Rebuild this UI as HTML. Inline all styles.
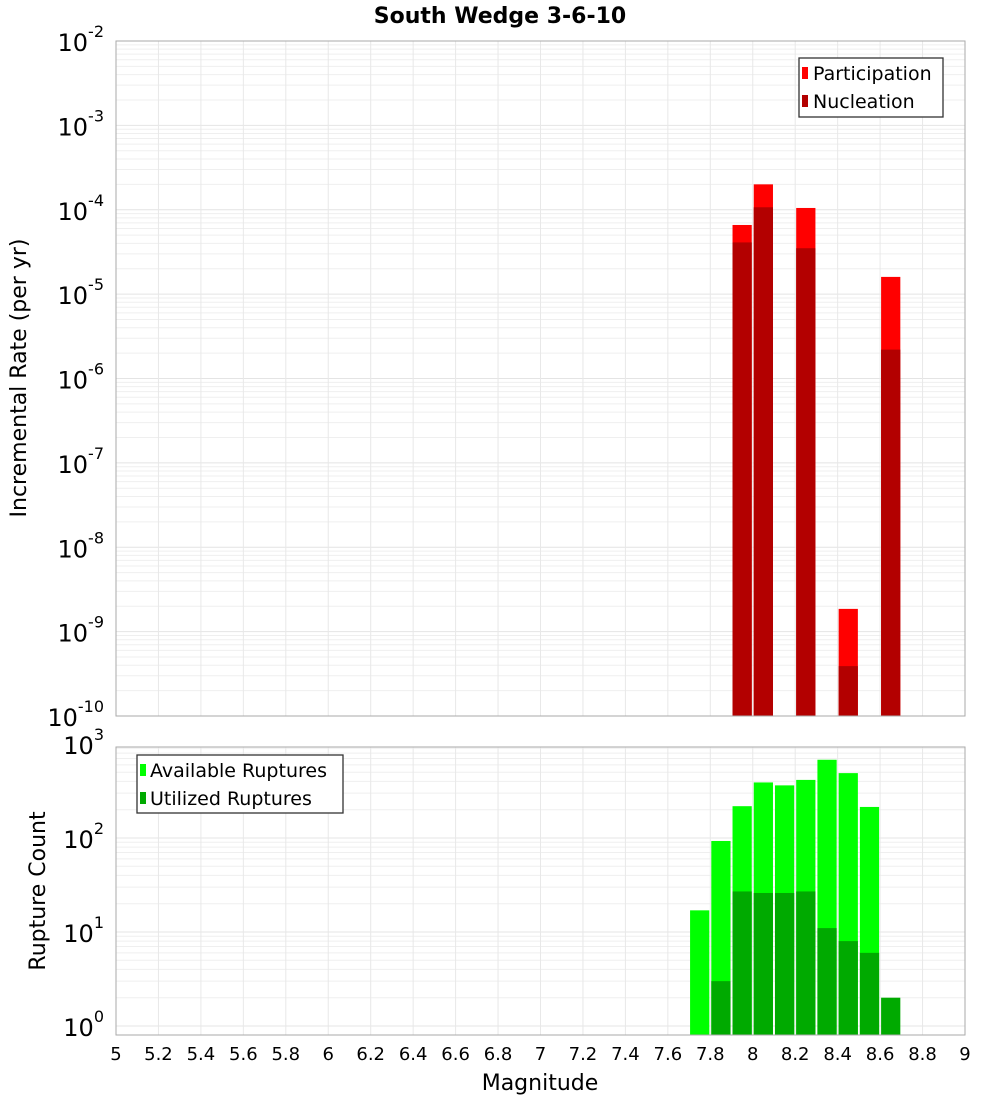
<!DOCTYPE html>
<html><head><meta charset="utf-8"><style>
body{margin:0;background:#fff;}
svg{display:block;font-family:"DejaVu Sans","Liberation Sans",sans-serif;}
</style></head><body>
<svg id="chart" width="1000" height="1100" xmlns="http://www.w3.org/2000/svg">
<text x="500" y="23" text-anchor="middle" font-size="22" font-weight="bold">South Wedge 3-6-10</text>
<g id="top"></g><g id="bot"></g>
<text transform="translate(26,378) rotate(-90)" text-anchor="middle" font-size="22">Incremental Rate (per yr)</text>
<text transform="translate(45,891) rotate(-90)" text-anchor="middle" font-size="22">Rupture Count</text>
<text x="540" y="1090" text-anchor="middle" font-size="22">Magnitude</text>
<g>
<rect x="799" y="58" width="144" height="59" fill="#fff" stroke="#333" stroke-width="1.3"/>
<rect x="802" y="67" width="6" height="12" fill="#ff0000"/>
<text x="813" y="80" font-size="19">Participation</text>
<rect x="802" y="95" width="6" height="12" fill="#b30000"/>
<text x="813" y="108" font-size="19">Nucleation</text>
</g>
<g>
<rect x="137" y="755" width="206" height="58" fill="#fff" stroke="#333" stroke-width="1.3"/>
<rect x="140" y="764" width="6" height="12" fill="#00ff00"/>
<text x="150" y="777" font-size="19">Available Ruptures</text>
<rect x="140" y="792" width="6" height="12" fill="#00aa00"/>
<text x="150" y="805" font-size="19">Utilized Ruptures</text>
</g>
</svg>
<script>
const topMags=[7.95,8.05,8.25,8.45,8.65];
const participation=[6.6e-5,2.0e-4,1.05e-4,1.86e-9,1.6e-5];
const nucleation=[4.1e-5,1.07e-4,3.5e-5,3.9e-10,2.2e-6];
const botMags=[7.75,7.85,7.95,8.05,8.15,8.25,8.35,8.45,8.55,8.65];
const available=[17,93,218,390,363,415,680,490,214,0];
const utilized=[0,3,27,26,26,27,11,8,6,2];
const xTicks=["5","5.2","5.4","5.6","5.8","6","6.2","6.4","6.6","6.8","7","7.2","7.4","7.6","7.8","8","8.2","8.4","8.6","8.8","9"];
const topDecades=[-10,-9,-8,-7,-6,-5,-4,-3,-2];
const botDecades=[0,1,2,3];
const NS="http://www.w3.org/2000/svg";
const X0=116,X1=965;
const xs=m=>X0+(m-5)/4*(X1-X0);
const yTop=v=>41+(-2-Math.log10(v))*84.375;
const yBot=v=>1026-Math.log10(v)*94;
function mk(p,tag,a){const e=document.createElementNS(NS,tag);for(const k in a)e.setAttribute(k,a[k]);p.appendChild(e);return e;}
function panel(g,yt,yb,yf,decs,minD,maxD,name){
  mk(g,'rect',{x:X0,y:yt,width:X1-X0,height:yb-yt,fill:'#fff'});
  for(let d=minD;d<=maxD;d++)for(let k=1;k<10;k++){const y=yf(k*Math.pow(10,d));if(y<yt||y>yb)continue;
    const l=mk(g,'line',{x1:X0,x2:X1,y1:y,y2:y,stroke:k==1?'#e4e4e4':'#efefef','stroke-width':1});}
  xTicks.forEach(t=>{const x=xs(+t);const l=mk(g,'line',{x1:x,x2:x,y1:yt,y2:yb,stroke:'#e8e8e8'});});
  decs.forEach(d=>{const y=yf(Math.pow(10,d));const t=mk(g,'text',{x:104,y:y+10,'text-anchor':'end','font-size':24});
    
    
    t.textContent='10';const s=mk(t,'tspan',{dy:-14,'font-size':16});s.textContent=String(d);});
}
const gt=document.getElementById('top'),gb=document.getElementById('bot');
panel(gt,41,716,yTop,topDecades,-10,-3,'top');
panel(gb,747,1035,yBot,botDecades,0,2,'bottom');
const bw=(X1-X0)/40;
topMags.forEach((m,i)=>{
  const r=mk(gt,'rect',{x:xs(m)-bw/2+1,y:yTop(participation[i]),width:bw-2,height:716-yTop(participation[i]),fill:'#ff0000'});
  
  
  const n=mk(gt,'rect',{x:xs(m)-bw/2+1,y:yTop(nucleation[i]),width:bw-2,height:716-yTop(nucleation[i]),fill:'#b30000'});
  
  
});
botMags.forEach((m,i)=>{
  if(available[i]>0){const r=mk(gb,'rect',{x:xs(m)-bw/2+1,y:yBot(available[i]),width:bw-2,height:1035-yBot(available[i]),fill:'#00ff00'});
  
  }
  if(utilized[i]>0){const n=mk(gb,'rect',{x:xs(m)-bw/2+1,y:yBot(utilized[i]),width:bw-2,height:1035-yBot(utilized[i]),fill:'#00aa00'});
  
  }
});
mk(gt,'rect',{x:X0,y:41,width:X1-X0,height:675,fill:'none',stroke:'#aaa'});
mk(gb,'rect',{x:X0,y:747,width:X1-X0,height:288,fill:'none',stroke:'#aaa'});
xTicks.forEach(t=>{const e=mk(gb,'text',{x:xs(+t),y:1060,'text-anchor':'middle','font-size':18});
  
  
  e.textContent=t;});
</script>
</body></html>
